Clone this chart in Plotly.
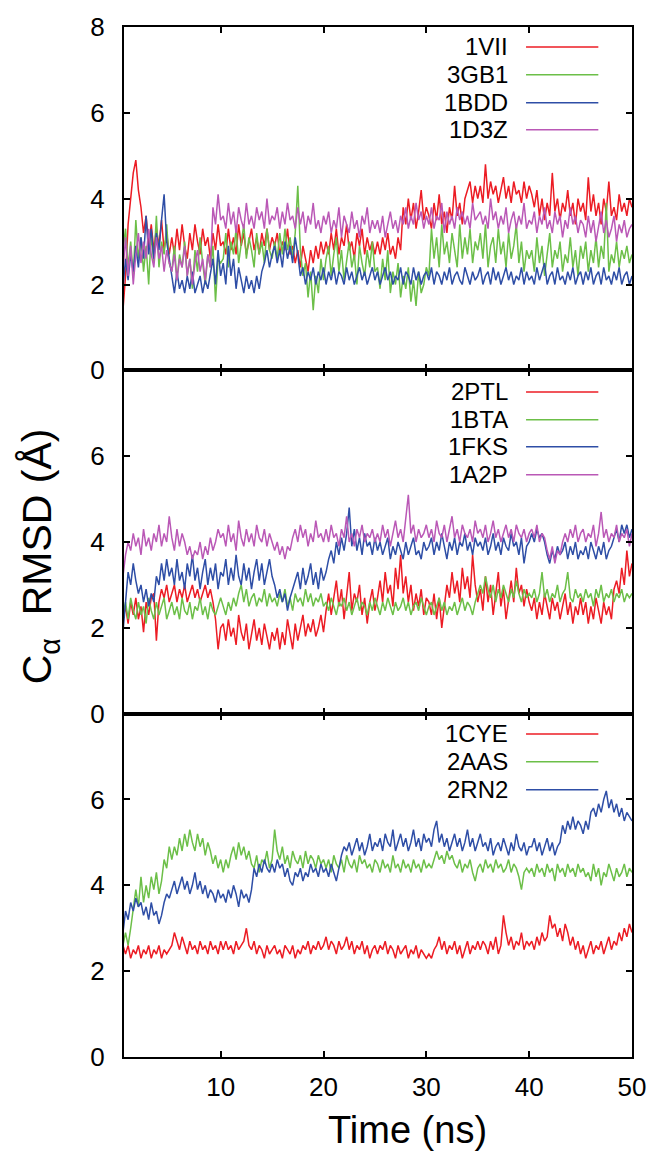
import plotly.graph_objects as go
from plotly.subplots import make_subplots

# ---------------- data (time grid every 0.25 ns) ----------------
TIME = [0.25 * (i + 1) for i in range(200)]

# Panel 1
S_1VII = [
    1.3, 1.4, 2.2, 3.4, 4.0, 4.6, 4.9, 4.2, 3.8, 3.2, 3.6, 2.9, 3.4, 2.8, 3.3, 2.9, 3.5, 2.8, 3.2, 2.7,
    3.1, 2.7, 3.3, 2.8, 3.4, 2.9, 2.6, 3.2, 2.8, 3.4, 3.0, 2.7, 3.3, 2.9, 3.1, 2.6, 3.2, 2.8, 3.4, 2.9,
    3.0, 2.7, 3.3, 2.8, 3.1, 2.7, 3.4, 2.9, 3.2, 2.7, 3.0, 3.3, 2.8, 3.1, 2.7, 3.2, 2.9, 3.3, 2.8, 3.1,
    2.9, 3.2, 2.7, 3.0, 2.8, 3.3, 2.7, 2.9, 2.5, 2.8, 2.4, 2.9, 2.6, 2.3, 2.8, 2.5, 2.9, 2.6, 3.0, 2.7,
    3.0, 2.7, 3.2, 2.8, 3.3, 2.7, 3.1, 2.9, 3.4, 2.8, 3.0, 2.6, 3.2, 2.9, 3.3, 2.7, 3.1, 2.8, 3.0, 2.7,
    3.0, 2.7, 3.1, 2.8, 3.2, 2.7, 2.9, 2.6, 3.1, 2.8, 3.8, 3.4, 4.0, 3.5, 3.9, 3.3, 3.7, 4.2, 3.5, 3.8,
    3.6, 3.3, 3.9, 3.5, 4.1, 3.4, 3.7, 3.2, 3.8, 3.5, 4.3, 3.6, 3.9, 3.4, 4.0, 4.2, 4.4, 3.9, 4.3, 4.0,
    4.3, 3.9, 4.8, 4.0, 4.4, 4.1, 4.3, 3.9, 4.2, 4.5, 4.0, 4.3, 3.9, 4.4, 4.1, 4.2, 3.9, 4.4, 4.0, 4.3,
    4.1, 3.8, 4.2, 3.6, 4.0, 3.5, 3.9, 3.6, 4.6, 3.7, 4.0, 3.5, 3.9, 3.7, 4.2, 3.6, 3.9, 3.4, 4.0, 3.7,
    3.9, 3.5, 4.5, 3.7, 4.1, 3.6, 3.9, 3.4, 4.0, 3.7, 4.4, 3.6, 3.8, 3.5, 4.1, 3.7, 3.9, 3.6, 4.0, 3.8,
]
S_3GB1 = [
    2.6, 2.8, 3.3, 2.4, 3.0, 2.2, 3.5, 2.6, 3.1, 2.3, 2.9, 2.0, 3.2, 2.5, 3.6, 2.4, 3.0, 2.7, 3.4, 2.5,
    2.3, 2.9, 2.1, 2.7, 2.4, 3.0, 2.2, 2.6, 1.9, 2.8, 2.3, 3.1, 2.5, 2.0, 2.7, 2.4, 2.9, 1.6, 2.6, 2.5,
    2.6, 3.2, 2.4, 3.0, 2.7, 3.3, 2.5, 2.9, 3.4, 2.6, 3.1, 2.8, 2.4, 3.2, 2.7, 3.0, 2.5, 3.3, 2.8, 2.6,
    3.0, 2.6, 3.2, 2.7, 3.3, 2.8, 3.1, 2.6, 3.2, 4.3, 2.8, 2.2, 2.5, 1.7, 2.3, 1.4, 2.2, 1.8, 2.6, 2.1,
    2.6, 2.9, 2.2, 2.7, 3.1, 2.3, 2.8, 2.1, 2.6, 3.0, 2.4, 2.7, 2.0, 2.9, 2.5, 2.2, 2.8, 2.4, 3.0, 2.3,
    2.4, 1.9, 2.6, 2.1, 2.8, 1.8, 2.3, 2.0, 2.5, 1.7, 2.2, 1.9, 2.4, 1.6, 2.1, 1.5, 2.3, 1.8, 2.0, 2.4,
    2.2, 3.3, 2.6, 3.1, 2.4, 3.4, 2.7, 3.0, 2.5, 3.2, 2.8, 2.4, 3.4, 2.6, 3.1, 2.7, 3.3, 2.5, 3.0, 2.8,
    3.2, 2.6, 3.4, 2.4, 2.9, 3.1, 2.5, 3.3, 2.7, 3.0, 2.4, 3.2, 2.6, 2.9, 3.4, 2.5, 3.0, 2.3, 2.8, 2.6,
    2.8, 2.3, 3.1, 2.5, 2.9, 2.2, 2.7, 3.2, 2.4, 2.8, 2.6, 3.0, 2.3, 2.7, 2.5, 3.1, 2.4, 2.8, 2.2, 2.9,
    2.6, 3.0, 2.3, 2.8, 2.5, 3.1, 2.4, 2.9, 2.6, 3.9, 2.3, 2.7, 2.5, 3.0, 2.4, 2.8, 2.6, 2.9, 2.5, 2.7,
]
S_1BDD = [
    2.0, 1.9, 2.6, 2.1, 2.7, 2.3, 2.9, 2.4, 3.1, 2.6, 3.6, 2.7, 3.3, 2.6, 3.2, 2.8, 3.5, 4.1, 3.0, 2.6,
    2.2, 1.8, 2.3, 1.9, 2.1, 1.8, 2.2, 1.9, 2.3, 1.8, 2.0, 2.2, 1.8, 2.1, 1.9, 2.3, 2.6, 2.0, 2.8, 2.2,
    2.5, 2.0, 2.9, 2.2, 2.6, 1.9, 2.4, 2.1, 1.8, 2.2, 1.9, 2.1, 1.8, 2.2, 1.9, 2.3, 2.5, 2.8, 2.4, 2.7,
    2.9, 2.5, 2.8, 2.4, 3.0, 2.6, 2.9, 2.5, 3.1, 2.7, 2.2, 2.4, 2.0, 2.3, 2.1, 2.4, 2.0, 2.3, 2.1, 2.4,
    2.0, 2.3, 2.1, 2.4, 2.0, 2.3, 2.2, 2.0, 2.4, 2.1, 2.3, 2.0, 2.2, 2.4, 2.1, 2.3, 2.0, 2.2, 2.4, 2.1,
    2.3, 2.0, 2.2, 2.4, 2.1, 2.3, 2.0, 2.2, 2.1, 2.4, 2.0, 2.3, 2.2, 2.0, 2.4, 2.1, 2.3, 2.0, 2.2, 2.3,
    2.1, 2.4, 2.0, 2.3, 2.2, 2.0, 2.3, 2.1, 2.4, 2.0, 2.2, 2.3, 2.1, 2.0, 2.4, 2.2, 2.0, 2.3, 2.1, 2.2,
    2.4, 2.0, 2.2, 2.3, 2.0, 2.4, 2.1, 2.3, 2.0, 2.2, 2.4, 2.1, 2.3, 2.0, 2.2, 2.1, 2.4, 2.0, 2.3, 2.1,
    2.2, 2.0, 2.4, 2.1, 2.3, 2.5, 2.0, 2.2, 2.3, 2.0, 2.4, 2.1, 2.2, 2.0, 2.3, 2.1, 2.4, 2.0, 2.2, 2.3,
    2.0, 2.3, 2.1, 2.4, 2.0, 2.2, 2.3, 2.0, 2.4, 2.1, 2.2, 2.0, 2.3, 2.1, 2.4, 2.0, 2.2, 2.3, 2.0, 2.2,
]
S_1D3Z = [
    2.6, 2.3, 3.1, 2.2, 2.9, 2.0, 2.7, 3.2, 2.5, 3.0, 2.6, 3.3, 2.7, 2.4, 3.1, 2.6, 2.9, 2.3, 2.8, 2.5,
    2.3, 2.7, 2.1, 2.6, 2.4, 2.9, 2.2, 2.6, 2.0, 2.5, 2.8, 2.3, 2.6, 2.1, 2.7, 2.4, 3.8, 3.4, 4.1, 3.5,
    3.6, 3.3, 3.9, 3.4, 3.7, 3.2, 3.8, 3.5, 3.3, 3.9, 3.4, 3.6, 3.3, 3.8, 3.5, 3.7, 3.3, 4.0, 3.4, 3.6,
    3.5, 3.8, 3.3, 3.7, 3.4, 3.9, 3.5, 3.6, 3.3, 3.8, 3.4, 3.7, 3.2, 3.6, 3.4, 3.9, 3.3, 3.5, 3.2, 3.6,
    3.4, 3.7, 3.2, 3.5, 3.3, 3.8, 3.1, 3.6, 3.4, 3.2, 3.7, 3.3, 3.5, 3.1, 3.6, 3.4, 3.8, 3.2, 3.5, 3.3,
    3.5, 3.2, 3.6, 3.1, 3.4, 3.7, 3.3, 3.5, 3.2, 3.6, 3.4, 3.8, 3.3, 3.6, 3.4, 3.9, 3.5, 3.7, 3.3, 3.6,
    3.4, 3.8, 3.3, 3.6, 3.5, 3.9, 3.2, 3.7, 3.4, 3.6, 3.3, 3.8, 3.5, 3.7, 3.4, 3.6, 3.3, 3.9, 3.5, 3.6,
    3.7, 3.4, 3.6, 3.3, 4.0, 3.5, 3.7, 3.3, 3.6, 3.4, 3.8, 3.2, 3.5, 3.7, 3.3, 3.6, 3.4, 3.9, 3.3, 3.5,
    3.4, 3.7, 3.2, 3.6, 3.4, 3.8, 3.3, 3.5, 3.2, 3.7, 3.4, 3.6, 3.1, 3.5, 3.3, 3.8, 3.4, 3.6, 3.2, 3.5,
    3.4, 3.1, 3.6, 3.2, 3.5, 3.0, 3.4, 3.7, 3.2, 3.5, 3.1, 3.3, 3.6, 3.0, 3.4, 3.2, 3.5, 3.1, 3.3, 3.4,
]

# Panel 2
S_2PTL = [
    2.0, 2.2, 2.5, 2.1, 2.6, 2.3, 2.7, 2.2, 2.5, 1.9, 2.6, 2.3, 2.7, 2.8, 1.7, 2.6, 2.9, 2.7, 3.0, 2.6,
    2.8, 3.0, 2.6, 2.9, 2.7, 3.0, 2.6, 2.8, 3.0, 2.7, 2.9, 2.6, 2.8, 3.0, 2.7, 2.9, 2.6, 2.2, 1.5, 2.0,
    2.1, 1.7, 2.2, 1.8, 2.0, 1.6, 2.3, 1.9, 1.7, 2.1, 1.5, 1.9, 2.2, 1.7, 2.0, 1.6, 2.1, 1.8, 1.5, 1.9,
    1.7, 2.0, 1.5, 1.9, 1.6, 2.2, 1.8, 1.5, 2.1, 1.7, 2.0, 2.3, 1.8, 2.1, 1.9, 2.2, 1.8, 2.0, 2.3, 1.9,
    2.4, 2.8, 2.3, 2.7, 3.1, 2.5, 2.9, 2.2, 2.7, 3.3, 2.4, 2.8, 2.6, 3.0, 2.3, 2.7, 2.1, 2.6, 2.9, 2.4,
    2.7, 3.1, 2.6, 3.3, 2.8, 3.0, 2.5, 3.4, 2.9, 3.7, 2.8, 3.2, 2.6, 3.0, 2.4, 2.8, 2.5, 2.9, 2.3, 2.7,
    2.6, 2.3, 2.8, 2.2, 2.7, 2.0, 2.5, 3.0, 2.7, 3.3, 2.8, 3.1, 2.6, 3.4, 2.9, 3.2, 2.7, 3.7, 3.0, 2.6,
    2.9, 2.4, 3.2, 2.6, 3.0, 2.3, 2.8, 3.3, 2.5, 2.9, 2.2, 2.7, 3.1, 2.6, 3.4, 2.8, 3.0, 2.5, 2.9, 2.6,
    2.4, 2.7, 2.2, 2.6, 2.3, 2.8, 2.5, 2.2, 2.7, 2.4, 2.6, 2.2, 2.5, 2.8, 2.3, 2.6, 2.1, 2.5, 2.3, 2.7,
    2.3, 2.6, 2.1, 2.5, 2.2, 2.7, 2.4, 2.1, 2.6, 2.3, 2.5, 2.2, 2.9, 3.1, 2.8, 3.4, 3.0, 3.8, 3.2, 3.5,
]
S_1BTA = [
    2.1, 2.3, 2.6, 2.2, 2.7, 2.4, 2.2, 2.6, 2.3, 2.5, 2.1, 2.7, 2.4, 2.2, 2.6, 2.3, 2.5, 2.7, 2.2, 2.4,
    2.6, 2.3, 2.5, 2.2, 2.7, 2.4, 2.3, 2.6, 2.2, 2.5, 2.4, 2.7, 2.3, 2.5, 2.2, 2.6, 2.4, 2.3, 2.5, 2.7,
    2.5, 2.3, 2.6, 2.4, 2.7, 2.5, 2.8, 3.0, 2.6, 2.9, 2.5, 2.7, 2.8, 2.5, 2.7, 2.6, 2.9, 2.5, 2.8, 2.6,
    2.7, 2.5, 2.8, 2.6, 2.9, 2.5, 2.7, 2.4, 2.8, 2.6, 2.7, 2.5, 2.9, 2.6, 2.8, 2.5, 2.7, 2.6, 2.8, 2.5,
    2.6, 2.4, 2.7, 2.5, 2.3, 2.6, 2.5, 2.7, 2.4, 2.6, 2.3, 2.5, 2.7, 2.4, 2.6, 2.5, 2.3, 2.6, 2.4, 2.7,
    2.5, 2.3, 2.6, 2.4, 2.7, 2.5, 2.3, 2.6, 2.4, 2.5, 2.7, 2.4, 2.6, 2.3, 2.5, 2.6, 2.4, 2.7, 2.5, 2.3,
    2.5, 2.6, 2.3, 2.5, 2.7, 2.4, 2.6, 2.3, 2.5, 2.4, 2.6, 2.3, 2.5, 2.7, 2.4, 2.6, 2.5, 2.3, 2.6, 2.8,
    3.0, 2.8, 3.2, 2.9, 2.7, 3.0, 2.6, 2.9, 2.7, 3.0, 2.8, 2.6, 2.9, 2.7, 3.1, 2.8, 2.6, 2.9, 2.7, 2.8,
    2.7, 2.9, 2.6, 2.8, 3.3, 2.7, 2.9, 2.6, 2.8, 2.7, 3.0, 2.6, 2.8, 2.9, 3.3, 2.7, 2.6, 2.9, 2.7, 2.8,
    2.6, 2.9, 2.7, 2.8, 2.5, 2.9, 2.7, 3.0, 2.6, 2.8, 2.7, 2.9, 2.6, 2.8, 2.7, 2.9, 2.6, 2.8, 2.7, 2.8,
]
S_1FKS = [
    1.8, 1.9, 2.6, 3.3, 3.0, 3.5, 3.1, 2.8, 3.0, 2.6, 2.9, 2.5, 2.8, 2.6, 3.2, 3.0, 3.5, 3.1, 3.6, 3.2,
    3.4, 3.0, 3.6, 3.1, 3.3, 2.9, 3.5, 3.2, 3.7, 3.1, 3.4, 2.9, 3.3, 3.6, 3.0, 3.4, 3.1, 3.5, 2.9, 3.3,
    3.2, 3.6, 3.0, 3.4, 3.1, 3.7, 3.2, 3.0, 3.5, 3.1, 3.4, 2.9, 3.3, 3.6, 3.1, 3.5, 3.0, 3.3, 3.6, 3.2,
    3.0, 2.7, 2.9, 2.6, 2.8, 2.4, 2.7, 2.9, 3.1, 3.3, 2.9, 3.4, 3.0, 3.2, 3.5, 3.0, 3.3, 2.9, 3.4, 3.1,
    3.3, 3.6, 3.8, 3.5, 4.0, 3.7, 4.1, 3.8, 4.2, 4.8, 3.9, 4.3, 3.8, 4.1, 3.7, 4.2, 3.9, 4.0, 3.7, 4.1,
    3.8, 4.0, 3.7, 3.9, 4.1, 3.6, 3.9, 3.7, 4.0, 3.8, 3.6, 4.0, 3.7, 3.9, 4.1, 3.7, 3.8, 3.6, 4.0, 3.8,
    3.9, 4.1, 3.7, 4.0, 3.8, 4.2, 3.9, 3.6, 4.0, 3.8, 4.1, 3.7, 4.0, 3.9, 4.2, 3.8, 4.0, 3.7, 4.1, 3.9,
    4.0, 3.8, 4.1, 3.7, 3.9, 4.2, 3.8, 4.0, 3.7, 4.1, 3.9, 3.8, 4.2, 3.9, 4.0, 3.7, 4.1, 3.5, 3.9, 4.0,
    4.2, 4.0, 4.3, 4.1, 4.2, 4.0, 3.7, 3.5, 3.8, 3.6, 3.9, 3.7, 3.8, 4.0, 3.6, 3.9, 3.7, 4.0, 3.6, 3.8,
    3.7, 3.9, 3.6, 4.0, 3.8, 3.6, 3.9, 3.7, 4.0, 3.6, 3.8, 3.9, 4.1, 4.3, 4.0, 4.4, 4.2, 4.4, 4.1, 4.3,
]
S_1A2P = [
    3.3, 3.2, 3.7, 4.0, 3.8, 4.2, 3.9, 4.1, 3.7, 4.3, 3.9, 4.1, 3.8, 4.2, 4.0, 4.4, 3.9, 4.2, 4.0, 4.6,
    4.1, 3.8, 4.3, 3.9, 4.2, 4.0, 3.7, 3.9, 3.6, 3.8, 3.7, 4.0, 3.6, 3.9, 3.7, 4.1, 3.8, 4.0, 4.3, 4.1,
    4.2, 3.9, 4.4, 4.0, 4.2, 3.8, 4.5, 4.1, 3.9, 4.3, 4.0, 4.2, 3.9, 4.4, 4.1, 4.0, 4.3, 3.9, 4.2, 4.0,
    3.8, 4.0, 3.7, 3.9, 3.6, 3.9, 3.8, 4.1, 4.3, 4.0, 4.4, 4.1, 4.3, 3.9, 4.2, 4.0, 4.5, 4.1, 4.2, 4.0,
    4.3, 4.0, 4.4, 4.1, 4.2, 3.9, 4.3, 4.1, 4.6, 4.0, 4.2, 3.9, 4.3, 4.1, 4.4, 4.0, 4.2, 4.1, 4.3, 4.0,
    4.2, 4.0, 4.4, 4.1, 4.3, 3.9, 4.2, 4.5, 4.1, 4.3, 4.0, 4.6, 5.1, 4.2, 4.4, 4.0, 4.3, 4.1, 4.2, 4.4,
    4.1, 4.3, 4.0, 4.5, 4.2, 4.1, 4.4, 4.0, 4.3, 4.6, 4.1, 4.3, 4.0, 4.4, 4.2, 4.1, 4.3, 4.0, 4.5, 4.2,
    4.3, 4.1, 4.4, 4.0, 4.2, 4.5, 4.1, 4.3, 4.0, 4.2, 4.4, 4.1, 4.3, 4.0, 4.4, 4.2, 4.1, 4.3, 4.0, 4.2,
    4.3, 4.1, 4.4, 4.0, 4.2, 4.1, 3.8, 3.6, 3.9, 3.5, 3.8, 3.7, 4.0, 4.2, 4.0, 4.3, 4.1, 4.4, 4.0, 4.2,
    4.3, 4.0, 4.2, 4.1, 4.4, 3.9, 4.2, 4.7, 4.1, 4.3, 4.0, 4.2, 4.1, 4.4, 4.0, 4.2, 4.1, 4.3, 3.9, 4.2,
]

# Panel 3
S_1CYE = [
    2.7, 2.6, 2.4, 2.6, 2.3, 2.5, 2.4, 2.6, 2.3, 2.5, 2.4, 2.6, 2.3, 2.5, 2.4, 2.6, 2.3, 2.5, 2.4, 2.5,
    2.6, 2.9, 2.7, 2.5, 2.8, 2.6, 2.4, 2.7, 2.5, 2.6, 2.4, 2.7, 2.5, 2.6, 2.4, 2.7, 2.5, 2.6, 2.4, 2.7,
    2.5, 2.7, 2.5, 2.6, 2.4, 2.7, 2.5, 2.6, 2.7, 3.0, 2.6, 2.5, 2.7, 2.4, 2.6, 2.5, 2.3, 2.6, 2.4, 2.5,
    2.6, 2.4, 2.5, 2.3, 2.6, 2.5, 2.4, 2.6, 2.3, 2.5, 2.4, 2.6, 2.5, 2.7, 2.4, 2.6, 2.5, 2.7, 2.5, 2.6,
    2.8, 2.5, 2.7, 2.6, 2.4, 2.7, 2.5, 2.6, 2.8, 2.5, 2.7, 2.4, 2.6, 2.5, 2.7, 2.4, 2.6, 2.3, 2.5, 2.6,
    2.4, 2.6, 2.5, 2.7, 2.4, 2.6, 2.5, 2.3, 2.6, 2.4, 2.5, 2.6, 2.3, 2.5, 2.4, 2.6, 2.3, 2.5, 2.4, 2.3,
    2.4, 2.3, 2.5, 2.6, 2.8, 2.5, 2.7, 2.4, 2.6, 2.5, 2.7, 2.4, 2.6, 2.3, 2.5, 2.7, 2.4, 2.6, 2.5, 2.7,
    2.5, 2.7, 2.6, 2.4, 2.7, 2.5, 2.8, 2.4, 2.6, 3.3, 2.9, 2.6, 2.8, 2.5, 2.7, 2.6, 2.9, 2.5, 2.7, 2.6,
    2.7, 2.5, 2.8, 2.6, 2.9, 2.7, 2.8, 3.3, 3.0, 3.1, 2.8, 3.0, 2.7, 3.1, 2.9, 2.6, 2.8, 2.5, 2.7, 2.4,
    2.6, 2.3, 2.5, 2.7, 2.4, 2.6, 2.5, 2.7, 2.4, 2.6, 2.8, 2.5, 2.7, 2.6, 2.9, 2.7, 3.0, 2.8, 3.1, 2.9,
]
S_2AAS = [
    2.7, 2.6, 2.9, 2.6, 3.0, 3.5, 3.9, 3.5, 4.2, 3.6, 4.0, 3.7, 4.2, 3.9, 4.3, 3.8, 4.1, 4.6, 4.4, 4.9,
    4.6, 4.9, 4.7, 5.1, 4.8, 5.2, 4.9, 5.3, 5.0, 4.8, 5.2, 4.9, 5.1, 4.7, 5.0, 4.8, 4.5, 4.7, 4.4, 4.6,
    4.3, 4.6, 4.4, 4.7, 4.9, 4.6, 5.0, 4.7, 4.9, 4.6, 4.8, 4.5, 4.4, 4.7, 4.3, 4.6, 4.5, 4.8, 4.4, 4.6,
    5.3, 4.8, 4.6, 4.9, 4.5, 4.7, 4.4, 4.8, 4.6, 4.5, 4.7, 4.4, 4.8, 4.5, 4.7, 4.6, 4.4, 4.7, 4.5, 4.6,
    4.4, 4.6, 4.3, 4.7, 4.5, 4.4, 4.6, 4.3, 4.7, 4.5, 4.4, 4.6, 4.3, 4.7, 4.5, 4.6, 4.4, 4.5, 4.3, 4.6,
    4.5, 4.3, 4.6, 4.4, 4.5, 4.3, 4.7, 4.4, 4.5, 4.3, 4.6, 4.4, 4.5, 4.3, 4.6, 4.4, 4.5, 4.3, 4.6, 4.4,
    4.5, 4.4, 4.6, 4.8, 4.6, 4.7, 4.5, 4.8, 4.6, 4.7, 4.5, 4.4, 4.6, 4.3, 4.5, 4.4, 4.6, 4.3, 4.1, 4.4,
    4.5, 4.3, 4.6, 4.4, 4.5, 4.3, 4.6, 4.4, 4.5, 4.3, 4.4, 4.6, 4.3, 4.5, 4.4, 4.2, 3.9, 4.3, 4.4, 4.3,
    4.4, 4.2, 4.5, 4.3, 4.4, 4.2, 4.5, 4.3, 4.4, 4.1, 4.5, 4.3, 4.4, 4.2, 4.5, 4.3, 4.4, 4.2, 4.5, 4.3,
    4.4, 4.2, 4.3, 4.1, 4.5, 4.2, 4.4, 4.0, 4.3, 4.2, 4.5, 4.3, 4.1, 4.4, 4.2, 4.3, 4.5, 4.2, 4.4, 4.3,
]
S_2RN2 = [
    3.0, 2.9, 3.4, 3.2, 3.6, 3.4, 3.7, 3.5, 3.6, 3.3, 3.5, 3.2, 3.6, 3.3, 3.4, 3.1, 3.3, 3.6, 3.8, 3.7,
    3.9, 4.1, 3.8, 4.0, 4.2, 3.9, 4.1, 3.8, 4.0, 4.3, 3.9, 4.1, 3.8, 4.0, 3.7, 3.9, 3.8, 3.6, 3.9, 3.7,
    3.8, 3.6, 3.9, 3.7, 4.0, 3.8, 3.5, 3.9, 3.7, 3.8, 3.6, 3.9, 4.4, 4.2, 4.5, 4.3, 4.6, 4.4, 4.3, 4.5,
    4.3, 4.6, 4.4, 4.5, 4.2, 4.4, 4.1, 4.0, 4.3, 4.2, 4.4, 4.1, 4.3, 4.2, 4.5, 4.3, 4.4, 4.2, 4.5, 4.3,
    4.4, 4.2, 4.5, 4.3, 4.1, 4.4, 4.7, 4.9, 4.8, 5.0, 4.7, 4.9, 5.1, 4.8, 5.0, 4.7, 4.9, 5.2, 4.8, 5.0,
    4.9, 5.1, 4.8, 5.2, 5.0, 4.9, 5.3, 4.8, 5.0, 5.2, 4.9, 5.1, 4.8, 5.0, 5.3, 4.9, 5.1, 4.8, 5.2, 5.0,
    5.1, 4.9, 5.3, 5.5, 5.0, 5.2, 4.9, 5.1, 4.8, 5.0, 5.2, 4.9, 5.1, 4.8, 5.0, 5.3, 4.9, 5.1, 4.8, 5.0,
    5.2, 4.9, 5.0, 4.8, 5.1, 4.7, 4.9, 5.0, 4.8, 5.1, 4.9, 4.7, 5.0, 4.8, 5.2, 4.9, 4.8, 5.0, 4.7, 4.9,
    4.9, 5.1, 4.8, 5.0, 4.7, 4.9, 5.1, 4.8, 5.0, 4.7, 4.9, 5.0, 5.4, 5.2, 5.5, 5.3, 5.6, 5.3, 5.5, 5.4,
    5.2, 5.5, 5.3, 5.7, 5.8, 5.6, 5.9, 5.7, 6.0, 6.2, 5.8, 6.0, 5.7, 5.9, 5.6, 5.8, 5.5, 5.7, 5.6, 5.5,
]

PANEL_NAMES = [
    ["1VII", "3GB1", "1BDD", "1D3Z"],
    ["2PTL", "1BTA", "1FKS", "1A2P"],
    ["1CYE", "2AAS", "2RN2"],
]
PANEL_SERIES = [
    [S_1VII, S_3GB1, S_1BDD, S_1D3Z],
    [S_2PTL, S_1BTA, S_1FKS, S_1A2P],
    [S_1CYE, S_2AAS, S_2RN2],
]
X_TICKS = [10, 20, 30, 40, 50]
Y_TICKS = [[0, 2, 4, 6, 8], [0, 2, 4, 6], [0, 2, 4, 6]]

for names, series in zip(PANEL_NAMES, PANEL_SERIES):
    for n, s in zip(names, series):
        if len(s) != len(TIME):
            raise ValueError(f"{n}: {len(s)} values")

# ---------------- style ----------------
COLORS = ["#ec1c24", "#6cbf48", "#2e4ea6", "#ba58b6"]
FONT = "Liberation Sans, Arial, Helvetica, sans-serif"
W, H = 658, 1154
ML, MR, MT, MB = 124, 21, 24, 97
PW, PH = W - ML - MR, H - MT - MB

def px_x(px):
    return (px - ML) / PW

def px_y(py):
    return (H - MB - py) / PH

LEGEND_TEXT_RIGHT = 513
LEGEND_LINE = (530, 603)
LEGEND_ROWS = [[44, 72, 100, 127], [390, 418, 445, 473], [733, 761, 789]]

fig = make_subplots(rows=3, cols=1, shared_xaxes=True, vertical_spacing=0)

for r, (names, series) in enumerate(zip(PANEL_NAMES, PANEL_SERIES), start=1):
    for name, ys, col in zip(names, series, COLORS):
        fig.add_trace(
            go.Scatter(x=TIME, y=ys, mode="lines", name=name,
                       line=dict(color=col, width=1.5), showlegend=False),
            row=r, col=1)

axis_common = dict(
    ticks="inside", ticklen=6, tickwidth=1.5, tickcolor="black",
    showline=True, linecolor="black", linewidth=2, mirror="ticks",
    showgrid=False, zeroline=False,
    tickfont=dict(family=FONT, size=26, color="black"),
)
for r in range(1, 4):
    fig.update_xaxes(range=[0.6, 50], tickvals=X_TICKS, ticklabelstandoff=6,
                     row=r, col=1, **axis_common)
    fig.update_yaxes(range=[0, 8], tickvals=Y_TICKS[r - 1], ticklabelstandoff=12,
                     row=r, col=1, **axis_common)

annotations = []
shapes = []
for names, rows in zip(PANEL_NAMES, LEGEND_ROWS):
    for name, py, col in zip(names, rows, COLORS):
        annotations.append(dict(
            x=px_x(LEGEND_TEXT_RIGHT), y=px_y(py), xref="paper", yref="paper",
            text=name, showarrow=False, xanchor="right", yanchor="middle",
            borderpad=0, font=dict(family=FONT, size=24, color="black")))
        shapes.append(dict(
            type="line", xref="paper", yref="paper",
            x0=px_x(LEGEND_LINE[0]), x1=px_x(LEGEND_LINE[1]),
            y0=px_y(py), y1=px_y(py), line=dict(color=col, width=1.5)))

annotations.append(dict(
    x=px_x(410), y=px_y(1130), xref="paper", yref="paper",
    text="Time (ns)", showarrow=False, xanchor="center", yanchor="middle",
    font=dict(family=FONT, size=38, color="black")))
annotations.append(dict(
    x=px_x(40), y=px_y(555), xref="paper", yref="paper",
    text="C<sub>α</sub>  RMSD (Å)", showarrow=False, textangle=-90,
    xanchor="center", yanchor="middle",
    font=dict(family=FONT, size=41, color="black")))

fig.update_layout(
    width=W, height=H,
    margin=dict(l=ML, r=MR, t=MT, b=MB),
    plot_bgcolor="white", paper_bgcolor="white",
    showlegend=False,
    annotations=annotations, shapes=shapes,
)

fig.write_html("out.html")
